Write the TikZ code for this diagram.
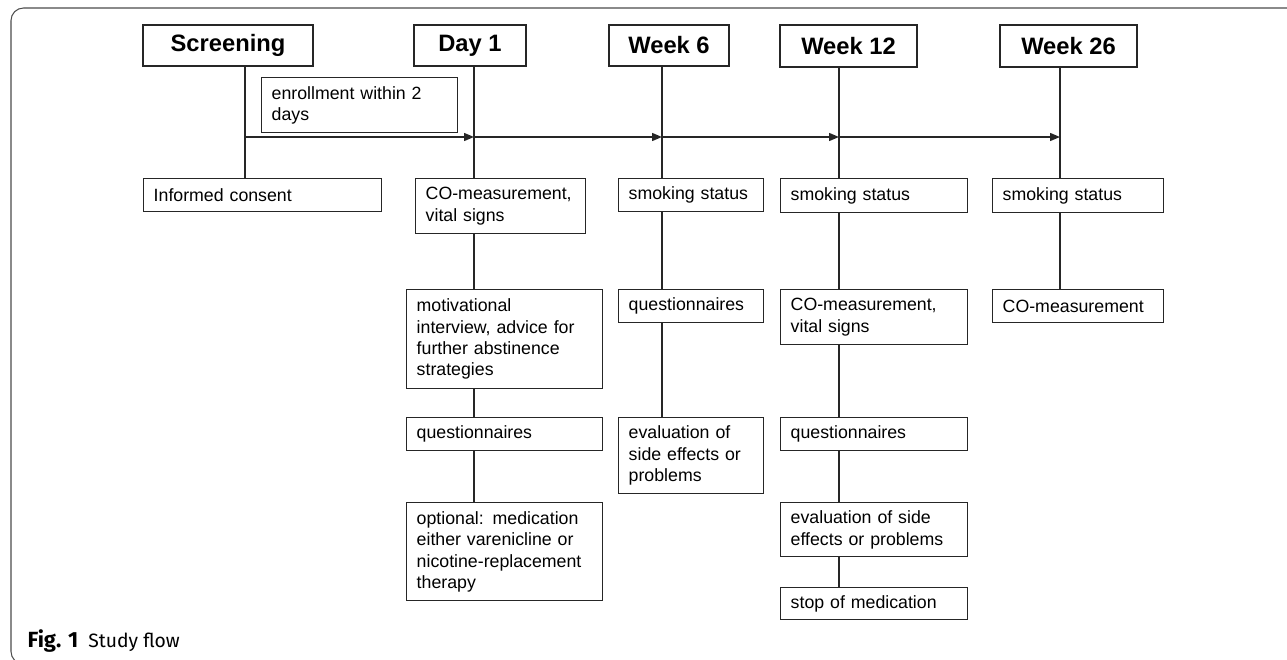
\documentclass[tikz,border=0pt]{standalone}
\usepackage{fontspec}
\setmainfont{Liberation Sans}
\newfontfamily\capfont{Fira Sans}
\usetikzlibrary{arrows.meta}

\begin{document}
\begin{tikzpicture}[x=0.02cm,y=-0.02cm,line width=0.8pt,draw=black!85,
	hdr/.style={draw,inner sep=0pt,minimum height=0.82cm,font=\fontsize{13.5}{16}\selectfont\bfseries},
	box/.style={draw,anchor=north west,inner xsep=0.2cm,inner ysep=0pt,align=left,font=\fontsize{10.1}{12.2}\selectfont},
	tip/.style={-{Triangle[length=0.2cm,width=0.16cm]}}]
	\useasboundingbox (0,0) rectangle (1287,659);

	%frame
	\draw[black!70,line width=0.6pt,rounded corners=0.25cm] (1300,8) -- (11,8) -- (11,664) -- (40,664);

	%time points
	\node[hdr,minimum width=3.4cm] (scr) at (228,45.5) {Screening};
	\node[hdr,minimum width=2.24cm] (d1) at (470,45.5) {Day 1};
	\node[hdr,minimum width=2.4cm] (w6) at (669,45.5) {Week 6};
	\node[hdr,minimum width=2.74cm,minimum height=0.84cm] (w12) at (848.5,46) {Week 12};
	\node[hdr,minimum width=2.74cm,minimum height=0.84cm] (w26) at (1068.5,46) {Week 26};

	%timeline
	\coordinate (tS) at (245,137);
	\coordinate (tD) at (474,137);
	\coordinate (tW6) at (662,137);
	\coordinate (tW12) at (839,137);
	\coordinate (tW26) at (1060,137);
	\draw[tip] (tS) -- (tD);
	\draw[tip] (tD) -- (tW6);
	\draw[tip] (tW6) -- (tW12);
	\draw[tip] (tW12) -- (tW26);
	\node[box,text width=3.52cm,minimum height=1.1cm] (enr) at (261,77) {enrollment within 2\\days};

	%screening
	\node[box,text width=4.36cm,minimum height=0.66cm] (ic) at (143,178) {Informed consent};

	%day 1
	\node[box,text width=3.0cm,minimum height=1.1cm] (d1a) at (415,178) {CO-measurement,\\vital signs};
	\node[box,text width=3.52cm,minimum height=1.98cm] (d1b) at (406,289) {motivational\\interview, advice for\\further abstinence\\strategies};
	\node[box,text width=3.52cm,minimum height=0.66cm] (d1c) at (406,417) {questionnaires};
	\node[box,text width=3.52cm,minimum height=1.96cm] (d1d) at (406,502) {optional: medication\\either varenicline or\\nicotine-replacement\\therapy};

	%week 6
	\node[box,text width=2.5cm,minimum height=0.66cm] (w6a) at (618,178) {smoking status};
	\node[box,text width=2.5cm,minimum height=0.66cm] (w6b) at (618,289) {questionnaires};
	\node[box,text width=2.5cm,minimum height=1.52cm] (w6c) at (618,417) {evaluation of\\side effects or\\problems};

	%week 12
	\node[box,text width=3.34cm,minimum height=0.68cm] (w12a) at (780,178) {smoking status};
	\node[box,text width=3.34cm,minimum height=1.1cm] (w12b) at (780,289) {CO-measurement,\\vital signs};
	\node[box,text width=3.34cm,minimum height=0.66cm] (w12c) at (780,417) {questionnaires};
	\node[box,text width=3.34cm,minimum height=1.08cm] (w12d) at (780,502) {evaluation of side\\effects or problems};
	\node[box,text width=3.34cm,minimum height=0.64cm] (w12e) at (780,587) {stop of medication};

	%week 26
	\node[box,text width=3.02cm,minimum height=0.68cm] (w26a) at (992,178) {smoking status};
	\node[box,text width=3.02cm,minimum height=0.66cm] (w26b) at (992,289) {CO-measurement};

	%vertical lines
	\draw (scr.south -| tS) -- (ic.north -| tS); %screening
	\draw (d1.south -| tD) -- (d1a.north -| tD); %day 1
	\draw (d1a.south -| tD) -- (d1b.north -| tD);
	\draw (d1b.south -| tD) -- (d1c.north -| tD);
	\draw (d1c.south -| tD) -- (d1d.north -| tD);
	\draw (w6.south -| tW6) -- (w6a.north -| tW6); %week 6
	\draw (w6a.south -| tW6) -- (w6b.north -| tW6);
	\draw (w6b.south -| tW6) -- (w6c.north -| tW6);
	\draw (w12.south -| tW12) -- (w12a.north -| tW12); %week 12
	\draw (w12a.south -| tW12) -- (w12b.north -| tW12);
	\draw (w12b.south -| tW12) -- (w12c.north -| tW12);
	\draw (w12c.south -| tW12) -- (w12d.north -| tW12);
	\draw (w12d.south -| tW12) -- (w12e.north -| tW12);
	\draw (w26.south -| tW26) -- (w26a.north -| tW26); %week 26
	\draw (w26a.south -| tW26) -- (w26b.north -| tW26);

	%caption
	\node[anchor=base west,inner sep=0pt,font=\capfont\fontsize{12.5}{15}\selectfont] (cap) at (27,647) {\textbf{Fig. 1}\hspace{0.45em}{\fontsize{11}{13}\selectfont Study flow}};
\end{tikzpicture}
\end{document}
